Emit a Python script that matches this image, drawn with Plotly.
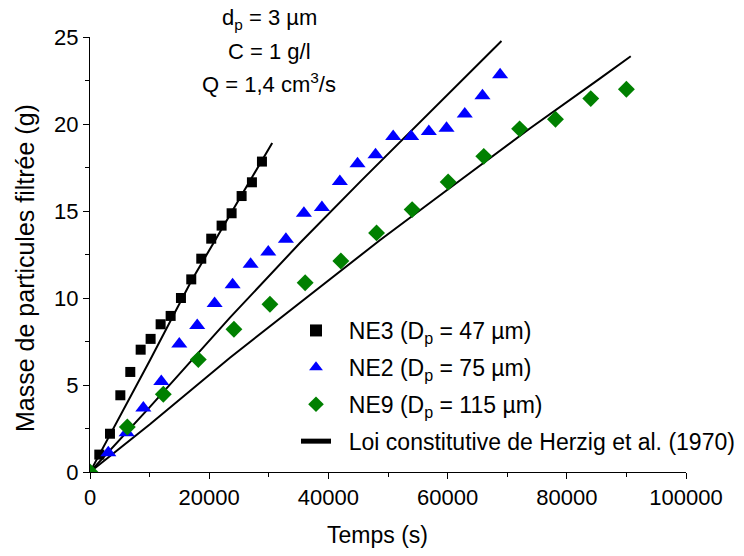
import plotly.graph_objects as go

# Data
ne3_t = [0, 1560, 3350, 5090, 6760, 8500, 10170, 11850, 13530, 15260, 16990, 18670, 20340, 22080, 23760, 25440, 27170, 28850]
ne3_m = [0, 1.0, 2.2, 4.41, 5.75, 7.03, 7.65, 8.49, 8.97, 10.0, 11.07, 12.26, 13.41, 14.16, 14.87, 15.86, 16.65, 17.84]

ne2_t = [0, 3070, 6150, 8950, 11960, 14980, 17990, 20910, 23930, 26950, 29910, 32870, 35890, 38910, 41920, 44890, 47910, 50870, 53890, 56850, 59820, 62880, 65850, 68810]
ne2_m = [0, 1.1, 2.25, 3.68, 5.2, 7.35, 8.42, 9.68, 10.76, 11.94, 12.65, 13.37, 14.87, 15.2, 16.69, 17.71, 18.23, 19.28, 19.28, 19.57, 19.76, 20.58, 21.62, 22.83]

ne9_t = [0, 6260, 12300, 18170, 24150, 30190, 36100, 42090, 48080, 54050, 60090, 66070, 72080, 78100, 84020, 90000]
ne9_m = [0, 2.59, 4.47, 6.46, 8.2, 9.64, 10.88, 12.13, 13.74, 15.08, 16.67, 18.14, 19.72, 20.27, 21.46, 22.0]

law_ne3_t = [0, 10060, 17060, 30570]
law_ne3_m = [0, 6.42, 11.02, 18.91]
law_ne2_t = [0, 10060, 23480, 35220, 45560, 60370, 69040]
law_ne2_m = [0, 3.74, 8.87, 13.16, 16.76, 21.84, 24.77]
law_ne9_t = [0, 10060, 23480, 35220, 48630, 60370, 73790, 85530, 90730]
law_ne9_m = [0, 2.74, 6.57, 9.71, 13.32, 16.32, 19.74, 22.61, 23.89]

x_ticks = [0, 20000, 40000, 60000, 80000, 100000]
y_ticks = [0, 5, 10, 15, 20, 25]

legend_names = [
    "NE3 (D<sub>p</sub> = 47 µm)",
    "NE2 (D<sub>p</sub> = 75 µm)",
    "NE9 (D<sub>p</sub> = 115 µm)",
    "Loi constitutive de Herzig et al. (1970)",
]
info_lines = ["d<sub>p</sub> = 3 µm", "C = 1 g/l", "Q = 1,4 cm<sup>3</sup>/s"]
x_title = "Temps (s)"
y_title = "Masse de particules filtrée (g)"

FONT = "Liberation Sans, Arial, sans-serif"
FS = 22
PAD = "\u00a0\u00a0"

# plot area in page pixels
L, R, T, B = 90, 686, 37, 472


def px(xp):
    return (xp - L) / (R - L)


def py(yp):
    return (B - yp) / (B - T)


fig = go.Figure()

for i, (t, m) in enumerate([(law_ne3_t, law_ne3_m), (law_ne2_t, law_ne2_m), (law_ne9_t, law_ne9_m)]):
    fig.add_trace(go.Scatter(
        x=t, y=m, mode="lines", line=dict(color="black", width=2),
        name=PAD + legend_names[3],
        showlegend=(i == 0), legendgroup="law", legendrank=4,
    ))

fig.add_trace(go.Scatter(
    x=ne3_t, y=ne3_m, mode="markers", name=PAD + legend_names[0],
    marker=dict(symbol="square", size=10, color="black"), legendgroup="ne3", legendrank=1,
))
fig.add_trace(go.Scatter(
    x=ne2_t, y=ne2_m, mode="markers", name=PAD + legend_names[1],
    marker=dict(symbol="triangle-up", size=14, color="#0000FF"), legendgroup="ne2", legendrank=2,
))
fig.add_trace(go.Scatter(
    x=ne9_t, y=ne9_m, mode="markers", name=PAD + legend_names[2],
    marker=dict(symbol="diamond", size=13, color="#008000"), legendgroup="ne9", legendrank=3,
))

fig.update_layout(
    width=744, height=556,
    margin=dict(l=L, r=744 - R, t=T, b=556 - B, autoexpand=False),
    paper_bgcolor="white", plot_bgcolor="white",
    font=dict(family=FONT, size=FS, color="black"),
    showlegend=True,
    legend=dict(
        x=px(296), y=py(309), xanchor="left", yanchor="top",
        bgcolor="rgba(0,0,0,0)", font=dict(family=FONT, size=23),
        tracegroupgap=4, itemsizing="constant",
    ),
    xaxis=dict(
        range=[0, 100000], tickvals=x_ticks, ticktext=[str(v) for v in x_ticks],
        showgrid=False, zeroline=False, showline=True, linecolor="black", linewidth=1,
        ticks="outside", ticklen=6, tickcolor="black",
        minor=dict(dtick=10000, ticks="outside", ticklen=4, tickcolor="black"),
        tickfont=dict(size=FS),
    ),
    yaxis=dict(
        range=[0, 25], tickvals=y_ticks,
        showgrid=False, zeroline=False, showline=True, linecolor="black", linewidth=1,
        ticks="outside", ticklen=6, tickcolor="black",
        minor=dict(dtick=2.5, ticks="outside", ticklen=4, tickcolor="black"),
        tickfont=dict(size=FS),
    ),
)

# axis titles placed as in the reference
fig.add_annotation(
    text=x_title, xref="paper", yref="paper", x=px(377), y=py(535),
    xanchor="center", yanchor="middle", showarrow=False, font=dict(family=FONT, size=23),
)
fig.add_annotation(
    text=y_title, xref="paper", yref="paper", x=px(25), y=py(268), textangle=-90,
    xanchor="center", yanchor="middle", showarrow=False, font=dict(family=FONT, size=25),
)

for txt, ypix in zip(info_lines, [19, 51, 83]):
    fig.add_annotation(
        text=txt, xref="paper", yref="paper",
        x=px(269), y=py(ypix), xanchor="center", yanchor="middle",
        showarrow=False, font=dict(family=FONT, size=FS),
    )

fig.write_html("out.html", config={"displayModeBar": False},
               post_script="document.body.style.margin='0';")
